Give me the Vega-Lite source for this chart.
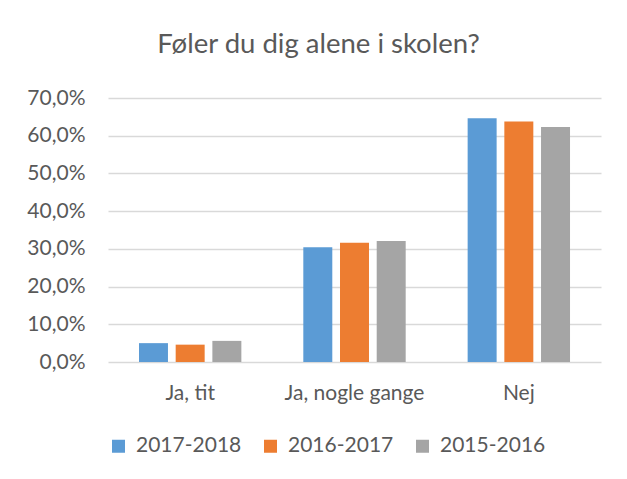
{
  "$schema": "https://vega.github.io/schema/vega-lite/v6.json",
  "autosize": {"type": "none"},
  "width": 493,
  "height": 264,
  "padding": {"left": 108, "top": 98, "right": 26, "bottom": 117},
  "background": "white",
  "title": {
    "text": "Føler du dig alene i skolen?",
    "font": "Lato",
    "fontSize": 27.5,
    "fontWeight": "normal",
    "color": "#595959",
    "anchor": "middle",
    "dx": -36,
    "offset": 29
  },
  "data": {
    "values": [
      {"svar": "Ja, tit", "aar": "2017-2018", "pct": 0.050},
      {"svar": "Ja, tit", "aar": "2016-2017", "pct": 0.046},
      {"svar": "Ja, tit", "aar": "2015-2016", "pct": 0.056},
      {"svar": "Ja, nogle gange", "aar": "2017-2018", "pct": 0.304},
      {"svar": "Ja, nogle gange", "aar": "2016-2017", "pct": 0.316},
      {"svar": "Ja, nogle gange", "aar": "2015-2016", "pct": 0.321},
      {"svar": "Nej", "aar": "2017-2018", "pct": 0.646},
      {"svar": "Nej", "aar": "2016-2017", "pct": 0.638},
      {"svar": "Nej", "aar": "2015-2016", "pct": 0.623}
    ]
  },
  "mark": {"type": "bar"},
  "encoding": {
    "x": {
      "field": "svar",
      "type": "nominal",
      "sort": ["Ja, tit", "Ja, nogle gange", "Nej"],
      "scale": {"paddingInner": 0.377, "paddingOuter": 0.1885},
      "axis": {
        "title": null,
        "labelAngle": 0,
        "domain": false,
        "ticks": false,
        "labelFont": "Lato",
        "labelFontSize": 21,
        "labelColor": "#595959",
        "labelPadding": 20
      }
    },
    "xOffset": {
      "field": "aar",
      "type": "nominal",
      "sort": ["2017-2018", "2016-2017", "2015-2016"],
      "scale": {"paddingInner": 0.21, "paddingOuter": 0}
    },
    "y": {
      "field": "pct",
      "type": "quantitative",
      "scale": {"domain": [0, 0.7], "nice": false},
      "axis": {
        "title": null,
        "values": [0, 0.1, 0.2, 0.3, 0.4, 0.5, 0.6, 0.7],
        "labelExpr": "replace(format(datum.value, '.1%'), '.', ',')",
        "domain": false,
        "ticks": false,
        "grid": true,
        "gridColor": "#D9D9D9",
        "gridWidth": 1.3,
        "labelFont": "Lato",
        "labelFontSize": 21,
        "labelColor": "#595959",
        "labelPadding": 23
      }
    },
    "color": {
      "field": "aar",
      "type": "nominal",
      "sort": ["2017-2018", "2016-2017", "2015-2016"],
      "scale": {
        "domain": ["2017-2018", "2016-2017", "2015-2016"],
        "range": ["#5B9BD5", "#ED7D31", "#A5A5A5"]
      },
      "legend": {
        "title": null,
        "orient": "none",
        "direction": "horizontal",
        "legendX": 0,
        "legendY": 337.5,
        "symbolType": "square",
        "symbolSize": 169,
        "symbolStrokeWidth": 0,
        "labelFont": "Lato",
        "labelFontSize": 21,
        "labelColor": "#595959",
        "labelOffset": 7,
        "columnPadding": 18,
        "padding": 0
      }
    }
  },
  "config": {
    "view": {"stroke": null}
  }
}
